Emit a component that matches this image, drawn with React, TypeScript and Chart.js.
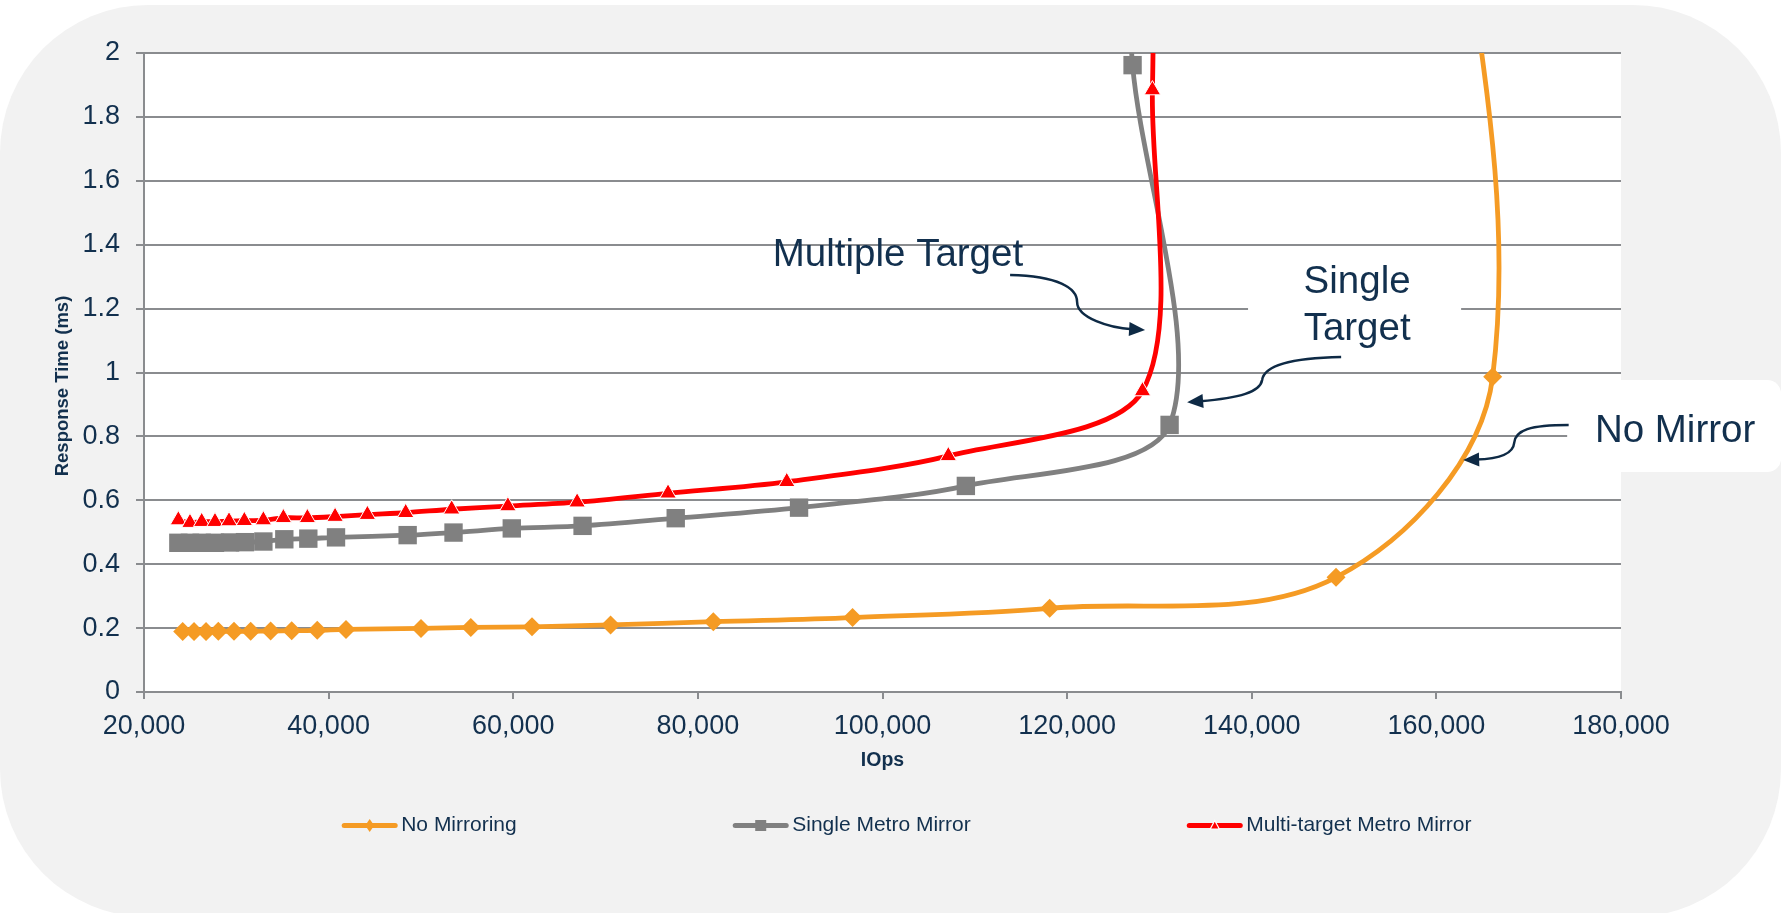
import React, { useEffect, useRef } from "react";
import { Chart, registerables } from "chart.js";

Chart.register(...registerables);

// ---------------- data ----------------
const SERIES_NAMES = ["No Mirroring", "Single Metro Mirror", "Multi-target Metro Mirror"];

const NO_MIRROR_IOPS = [24190, 25420, 26720, 28050, 29750, 31560, 33720, 36000, 38770, 41880, 50010, 55400, 62030, 70540, 81670, 96760, 118110, 149130, 166100, 160400];
const NO_MIRROR_MS = [0.189, 0.189, 0.189, 0.19, 0.19, 0.19, 0.191, 0.192, 0.193, 0.196, 0.199, 0.202, 0.204, 0.21, 0.22, 0.233, 0.262, 0.359, 0.987, 2.98];

const SINGLE_IOPS = [23720, 24980, 26250, 27690, 29320, 30940, 32930, 35200, 37800, 40800, 48560, 53530, 59840, 67510, 77600, 90960, 109030, 131100, 127090, 126200];
const SINGLE_MS = [0.467, 0.467, 0.467, 0.467, 0.468, 0.469, 0.471, 0.478, 0.48, 0.484, 0.491, 0.499, 0.512, 0.52, 0.544, 0.577, 0.645, 0.836, 1.962, 2.5];

const MULTI_IOPS = [23720, 24980, 26250, 27690, 29210, 30870, 32930, 35100, 37700, 40700, 44200, 48350, 53330, 59420, 66920, 76770, 89630, 107130, 128160, 129240, 129400];
const MULTI_MS = [0.538, 0.53, 0.533, 0.533, 0.535, 0.536, 0.538, 0.545, 0.545, 0.549, 0.555, 0.561, 0.572, 0.582, 0.594, 0.622, 0.658, 0.739, 0.942, 1.884, 2.5];

const X_TICKS = [20000, 40000, 60000, 80000, 100000, 120000, 140000, 160000, 180000];
const Y_TICKS = [0, 0.2, 0.4, 0.6, 0.8, 1, 1.2, 1.4, 1.6, 1.8, 2];

const X_TITLE = "IOps";
const Y_TITLE = "Response Time (ms)";

const CALLOUT_TEXTS = [["Multiple Target"], ["Single", "Target"], ["No Mirror"]];

// ---------------- styles / layout ----------------
const FONT = '"Liberation Sans", Arial, sans-serif';
const NAVY = "#12304e";
const ARROW = "#0e2a45";
const GRID = "#8a8c8f";
const BG = "#f2f2f2";
const COLORS = ["#F59B24", "#808080", "#FF0000"];
const TENSION = [0.35, 0.3, 0.3];
const MARKERS = [
  { style: "rectRot", radius: 9.5, border: 0, borderColor: COLORS[0] },
  { style: "rect", radius: 13, border: 0, borderColor: COLORS[1] },
  { style: "triangle", radius: 9.5, border: 1, borderColor: "#ffffff" },
];

// callout anchors in data units (IOps, ms)
const CALLOUTS = [
  {
    align: "left",
    x: 88114,
    y: 1.3343,
    path: [[113822, 1.3052], [119023, 1.302], [121081, 1.2645], [121081, 1.2207], [121081, 1.1706], [124656, 1.1393], [128448, 1.133]],
  },
  {
    align: "center",
    x: 151416,
    y: 1.2488,
    path: [[149683, 1.0485], [144158, 1.0454], [141341, 1.0203], [141124, 0.9765], [140907, 0.939], [138741, 0.9202], [133000, 0.9067]],
  },
  {
    align: "left",
    x: 177170,
    y: 0.7834,
    path: [[174330, 0.8357], [170159, 0.8357], [168534, 0.82], [168426, 0.7793], [168317, 0.7418], [166367, 0.7293], [162900, 0.7261]],
  },
];
// white label boxes (data units): x0, x1, y0, y1, radius
const LABEL_BOXES = [
  { x0: 139600, x1: 162680, y0: 1.3678, y1: 1.0329, r: 0 },
  { x0: 174168, x1: 197353, y0: 0.9765, y1: 0.6886, r: 14 },
];

const CALLOUT_FONT = 38.5;
const LEGEND_LEFT = 341.7;
const LEGEND_Y = 825.5;
const LEGEND_GAP = 216;

function pts(xs: number[], ys: number[]) {
  return xs.map((x, i) => ({ x, y: ys[i] }));
}

function roundPath(ctx: CanvasRenderingContext2D, x: number, y: number, w: number, h: number, r: number) {
  ctx.beginPath();
  ctx.moveTo(x + r, y);
  ctx.lineTo(x + w - r, y);
  ctx.arcTo(x + w, y, x + w, y + r, r);
  ctx.lineTo(x + w, y + h - r);
  ctx.arcTo(x + w, y + h, x + w - r, y + h, r);
  ctx.lineTo(x + r, y + h);
  ctx.arcTo(x, y + h, x, y + h - r, r);
  ctx.lineTo(x, y + r);
  ctx.arcTo(x, y, x + r, y, r);
  ctx.closePath();
}

function legendMarker(ctx: CanvasRenderingContext2D, idx: number, x: number, y: number) {
  ctx.save();
  ctx.fillStyle = COLORS[idx];
  ctx.beginPath();
  if (idx === 0) {
    ctx.moveTo(x, y - 6.5);
    ctx.lineTo(x + 4.5, y);
    ctx.lineTo(x, y + 6.5);
    ctx.lineTo(x - 4.5, y);
    ctx.closePath();
    ctx.fill();
  } else if (idx === 1) {
    ctx.rect(x - 5.5, y - 5.5, 11, 11);
    ctx.fill();
  } else {
    ctx.moveTo(x, y - 5);
    ctx.lineTo(x + 4.5, y + 3.5);
    ctx.lineTo(x - 4.5, y + 3.5);
    ctx.closePath();
    ctx.fill();
    ctx.strokeStyle = "#ffffff";
    ctx.lineWidth = 1.2;
    ctx.stroke();
  }
  ctx.restore();
}

const decorPlugin = {
  id: "decor",
  beforeDraw(chart: any) {
    const { ctx, chartArea: a, width, height } = chart;
    ctx.save();
    ctx.fillStyle = "#ffffff";
    ctx.fillRect(0, 0, width, height);
    ctx.fillStyle = BG;
    roundPath(ctx, 0, 5, width, 912, 148);
    ctx.fill();
    ctx.fillStyle = "#ffffff";
    ctx.fillRect(a.left, a.top, a.right - a.left, a.bottom - a.top);
    ctx.restore();
  },
  beforeDatasetsDraw(chart: any) {
    const { ctx, scales } = chart;
    const sx = scales.x, sy = scales.y;
    ctx.save();
    ctx.fillStyle = "#ffffff";
    LABEL_BOXES.forEach((b) => {
      const x0 = sx.getPixelForValue(b.x0), x1 = sx.getPixelForValue(b.x1);
      const y0 = sy.getPixelForValue(b.y0), y1 = sy.getPixelForValue(b.y1);
      if (b.r > 0) {
        roundPath(ctx, x0, y0, x1 - x0, y1 - y0, b.r);
        ctx.fill();
      } else {
        ctx.fillRect(x0, y0, x1 - x0, y1 - y0);
      }
    });
    ctx.restore();
  },
  afterDraw(chart: any) {
    const { ctx, scales, chartArea: a } = chart;
    const sx = scales.x, sy = scales.y;
    ctx.save();

    // y-axis title
    ctx.save();
    ctx.translate(62.5, (a.top + a.bottom) / 2 + 13.5);
    ctx.rotate(-Math.PI / 2);
    ctx.font = `bold 18.5px ${FONT}`;
    ctx.fillStyle = NAVY;
    ctx.textAlign = "center";
    ctx.textBaseline = "middle";
    ctx.fillText(Y_TITLE, 0, 0);
    ctx.restore();

    // callouts
    CALLOUTS.forEach((c, i) => {
      const lines = CALLOUT_TEXTS[i];
      ctx.font = `${CALLOUT_FONT}px ${FONT}`;
      ctx.fillStyle = NAVY;
      ctx.textAlign = c.align as CanvasTextAlign;
      ctx.textBaseline = "alphabetic";
      const tx = sx.getPixelForValue(c.x);
      const ty = sy.getPixelForValue(c.y);
      lines.forEach((ln, k) => ctx.fillText(ln, tx, ty + k * 47));

      const p = c.path.map(([vx, vy]) => ({ x: sx.getPixelForValue(vx), y: sy.getPixelForValue(vy) }));
      const [s, c1, c2, m, c3, c4, t] = p;
      const dx = t.x - c4.x, dy = t.y - c4.y;
      const len = Math.hypot(dx, dy) || 1;
      const ux = dx / len, uy = dy / len;
      const L = 16, W = 7;
      const end = { x: t.x - ux * (L - 3), y: t.y - uy * (L - 3) };
      ctx.strokeStyle = ARROW;
      ctx.fillStyle = ARROW;
      ctx.lineWidth = 2.5;
      ctx.lineCap = "butt";
      ctx.beginPath();
      ctx.moveTo(s.x, s.y);
      ctx.bezierCurveTo(c1.x, c1.y, c2.x, c2.y, m.x, m.y);
      ctx.bezierCurveTo(c3.x, c3.y, c4.x, c4.y, end.x, end.y);
      ctx.stroke();
      ctx.beginPath();
      ctx.moveTo(t.x, t.y);
      ctx.lineTo(t.x - ux * L - uy * W, t.y - uy * L + ux * W);
      ctx.lineTo(t.x - ux * L + uy * W, t.y - uy * L - ux * W);
      ctx.closePath();
      ctx.fill();
    });

    // legend
    let lx = LEGEND_LEFT;
    ctx.font = `21px ${FONT}`;
    ctx.textAlign = "left";
    ctx.textBaseline = "middle";
    chart.data.datasets.forEach((ds: any, i: number) => {
      ctx.strokeStyle = COLORS[i];
      ctx.lineWidth = 5;
      ctx.lineCap = "round";
      ctx.beginPath();
      ctx.moveTo(lx + 2.5, LEGEND_Y);
      ctx.lineTo(lx + 53.5, LEGEND_Y);
      ctx.stroke();
      legendMarker(ctx, i, lx + 28, LEGEND_Y);
      ctx.fillStyle = NAVY;
      ctx.fillText(ds.label, lx + 59.5, LEGEND_Y);
      lx += 59.5 + ctx.measureText(ds.label).width + LEGEND_GAP;
    });
    ctx.restore();
  },
};

export default function App() {
  const ref = useRef<HTMLCanvasElement | null>(null);

  useEffect(() => {
    if (!ref.current) return;
    const xsList = [NO_MIRROR_IOPS, SINGLE_IOPS, MULTI_IOPS];
    const ysList = [NO_MIRROR_MS, SINGLE_MS, MULTI_MS];
    const datasets = SERIES_NAMES.map((name, i) => ({
      label: name,
      data: pts(xsList[i], ysList[i]),
      showLine: true,
      borderColor: COLORS[i],
      backgroundColor: COLORS[i],
      borderWidth: 4.8,
      borderJoinStyle: "round",
      borderCapStyle: "round",
      tension: TENSION[i],
      pointStyle: MARKERS[i].style,
      pointRadius: MARKERS[i].radius,
      pointHoverRadius: MARKERS[i].radius,
      pointBorderWidth: MARKERS[i].border,
      pointBorderColor: MARKERS[i].borderColor,
      pointBackgroundColor: COLORS[i],
      clip: 0,
      order: 3 - i,
    }));

    const chart = new Chart(ref.current, {
      type: "scatter",
      data: { datasets } as any,
      plugins: [decorPlugin],
      options: {
        responsive: false,
        devicePixelRatio: 1,
        animation: false,
        events: [],
        layout: { padding: { left: 0, right: 160, top: 53, bottom: 121 } },
        elements: { line: { capBezierPoints: false } },
        plugins: { legend: { display: false }, tooltip: { enabled: false } },
        scales: {
          x: {
            type: "linear",
            min: 20000,
            max: 180000,
            afterBuildTicks: (s: any) => {
              s.ticks = X_TICKS.map((v) => ({ value: v }));
            },
            afterFit: (s: any) => {
              s.height = 100;
            },
            ticks: {
              autoSkip: false,
              maxRotation: 0,
              padding: 11,
              color: NAVY,
              font: { family: FONT, size: 27 },
              callback: (v: any) => Number(v).toLocaleString("en-US"),
            },
            grid: { drawOnChartArea: false, drawTicks: true, tickLength: 7, color: GRID, lineWidth: 2 },
            border: { display: true, color: GRID, width: 2 },
            title: {
              display: true,
              text: X_TITLE,
              color: NAVY,
              font: { family: FONT, size: 19.5, weight: "bold" },
              padding: { top: 0, bottom: 19.4 },
            },
          },
          y: {
            type: "linear",
            min: 0,
            max: 2,
            afterBuildTicks: (s: any) => {
              s.ticks = Y_TICKS.map((v) => ({ value: v }));
            },
            afterFit: (s: any) => {
              s.width = 144;
            },
            ticks: {
              padding: 16,
              color: NAVY,
              font: { family: FONT, size: 27 },
              callback: (v: any) => String(+Number(v).toFixed(1)),
            },
            grid: { drawOnChartArea: true, drawTicks: true, tickLength: 8, color: GRID, lineWidth: 2 },
            border: { display: true, color: GRID, width: 2 },
            title: { display: false },
          },
        },
      } as any,
    });
    return () => chart.destroy();
  }, []);

  return (
    <div style={{ position: "absolute", left: 0, top: 0, width: 1781, height: 913, background: "#ffffff" }}>
      <canvas ref={ref} width={1781} height={913} style={{ display: "block", width: 1781, height: 913 }} />
    </div>
  );
}
